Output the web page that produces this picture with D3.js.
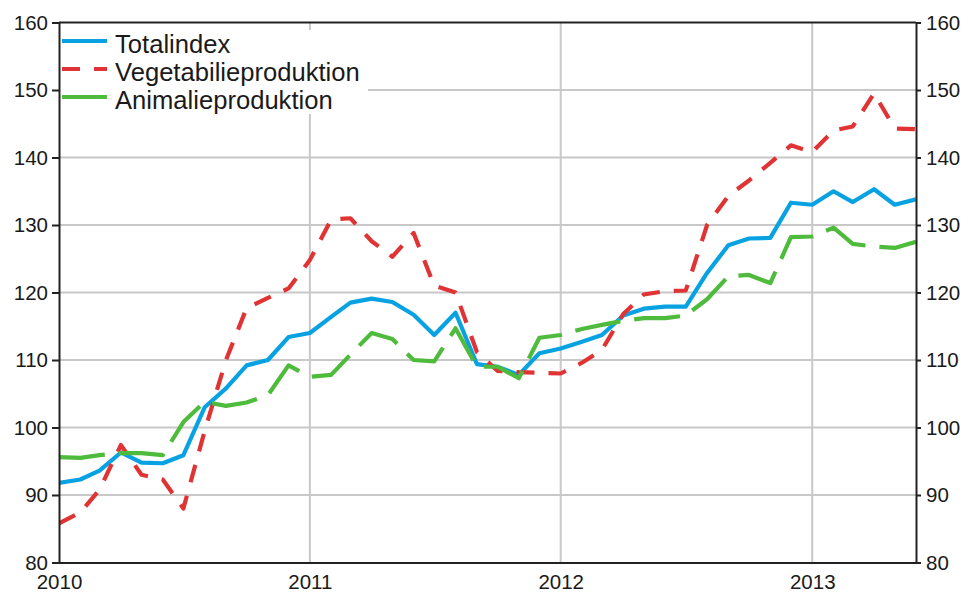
<!DOCTYPE html>
<html>
<head>
<meta charset="utf-8">
<script src="https://cdn.jsdelivr.net/npm/d3@7/dist/d3.min.js"></script>
<style>
  html, body { margin: 0; padding: 0; background: #ffffff; }
  svg { display: block; }
  text { font-family: "Liberation Sans", Arial, sans-serif; fill: #1a1a1a; }
</style>
</head>
<body>
<svg id="chart" width="969" height="592"></svg>
<script>
// ---- data (monthly, Jan 2010 – Jun 2013) ----
const startYear = 2010;
const startMonth = 0;
const totalindex = [
  91.8, 92.3, 93.6, 96.3, 94.8, 94.7, 95.9, 103.0, 105.8, 109.2, 110.0, 113.4,
  114.0, 116.4, 118.5, 119.1, 118.6, 116.7, 113.7, 117.0, 109.4, 109.0, 107.8, 111.0,
  111.7, 112.7, 113.7, 116.6, 117.6, 117.9, 117.9, 122.9, 127.0, 128.0, 128.1, 133.3,
  133.0, 135.0, 133.4, 135.3, 133.0, 133.8
];
const vegetabilie = [
  85.8, 87.4, 90.8, 97.4, 93.0, 92.3, 88.0, 99.5, 110.0, 117.7, 119.2, 120.6,
  124.8, 130.8, 131.0, 127.6, 125.3, 128.8, 121.0, 120.0, 111.2, 108.4, 108.2, 108.1,
  108.0, 109.6, 111.5, 116.8, 119.7, 120.2, 120.3, 130.0, 134.3, 136.6, 139.2, 141.8,
  140.8, 144.0, 144.6, 149.5, 144.3, 144.2
];
const animalie = [
  95.6, 95.5, 95.9, 96.2, 96.2, 95.9, 100.8, 103.8, 103.2, 103.7, 104.8, 109.2,
  107.5, 107.8, 110.8, 114.0, 113.1, 110.0, 109.8, 114.7, 109.0, 109.0, 107.3, 113.3,
  113.7, 114.6, 115.2, 115.8, 116.2, 116.2, 116.6, 119.0, 122.4, 122.6, 121.4, 128.2,
  128.3, 129.6, 127.2, 126.8, 126.6, 127.5
];
const seriesNames = ["Totalindex", "Vegetabilieproduktion", "Animalieproduktion"];
const seriesColors = ["#08a2e3", "#e03434", "#4fbb3c"];
const seriesDash = [null, "18,14", "46,14"];
const yTicks = [80, 90, 100, 110, 120, 130, 140, 150, 160];
const xTickYears = [2010, 2011, 2012, 2013];

// ---- layout ----
const W = 969, H = 592;
const pL = 59, pR = 916, pT = 22.5, pB = 562.5;

const svg = d3.select("#chart");

const dates = totalindex.map((_, i) => new Date(startYear, startMonth + i, 1));
const x = d3.scaleTime()
  .domain([dates[0], dates[dates.length - 1]])
  .range([pL, pR]);
const y = d3.scaleLinear().domain([80, 160]).range([pB, pT]);

svg.append("rect").attr("x", 0).attr("y", 0).attr("width", W).attr("height", H).attr("fill", "#fff");

// gridlines
const grid = svg.append("g").attr("stroke", "#c8c8c8").attr("stroke-width", 2);
grid.selectAll("line.h").data(yTicks.filter(v => v > 80 && v < 160)).enter().append("line")
  .attr("x1", pL).attr("x2", pR)
  .attr("y1", d => y(d)).attr("y2", d => y(d));
grid.selectAll("line.v").data(xTickYears.slice(1)).enter().append("line")
  .attr("x1", d => x(new Date(d, 0, 1))).attr("x2", d => x(new Date(d, 0, 1)))
  .attr("y1", pT).attr("y2", pB);

// legend background box (covers gridlines)
svg.append("rect").attr("x", pL + 1).attr("y", 30).attr("width", 308).attr("height", 84).attr("fill", "#fff");

// lines
const line = (vals) => d3.line()
  .x((d, i) => x(dates[i]))
  .y(d => y(d))(vals);
const allSeries = [totalindex, vegetabilie, animalie];
svg.append("clipPath").attr("id", "plotclip").append("rect")
  .attr("x", pL).attr("y", pT).attr("width", pR - pL).attr("height", pB - pT);
const linesG = svg.append("g").attr("clip-path", "url(#plotclip)");
allSeries.forEach((vals, k) => {
  linesG.append("path")
    .attr("d", line(vals))
    .attr("fill", "none")
    .attr("stroke", seriesColors[k])
    .attr("stroke-width", 4.2)
    .attr("stroke-linejoin", "round")
    .attr("stroke-dasharray", seriesDash[k]);
});

// frame / axes
const axisColor = "#222";
svg.append("line").attr("x1", pL).attr("x2", pR).attr("y1", pT).attr("y2", pT)
  .attr("stroke", axisColor).attr("stroke-width", 2);

const yAxisL = d3.axisLeft(y).tickValues(yTicks).tickSize(7).tickPadding(4).tickFormat(d3.format("d"));
const gL = svg.append("g").attr("transform", `translate(${pL},0)`).call(yAxisL);
const yAxisR = d3.axisRight(y).tickValues(yTicks).tickSize(5).tickPadding(5).tickFormat(d3.format("d"));
const gR = svg.append("g").attr("transform", `translate(${pR},0)`).call(yAxisR);
const xAxis = d3.axisBottom(x)
  .tickValues(xTickYears.map(yv => new Date(yv, 0, 1)))
  .tickSize(0).tickPadding(12)
  .tickFormat(d3.timeFormat("%Y"));
const gX = svg.append("g").attr("transform", `translate(0,${pB})`).call(xAxis);

[gL, gR, gX].forEach(g => {
  g.select(".domain").attr("stroke", axisColor).attr("stroke-width", 2);
  g.selectAll(".tick line").attr("stroke", axisColor).attr("stroke-width", 2);
  g.selectAll(".tick text")
    .attr("font-family", "'Liberation Sans', Arial, sans-serif")
    .attr("font-size", 20.5)
    .attr("fill", "#1a1a1a");
});
gX.selectAll(".tick text").attr("dy", "0.71em");

// legend
const leg = svg.append("g");
const legY = [41, 69, 97];
seriesNames.forEach((name, k) => {
  leg.append("line")
    .attr("x1", 62).attr("x2", 107)
    .attr("y1", legY[k]).attr("y2", legY[k])
    .attr("stroke", seriesColors[k]).attr("stroke-width", 4.2)
    .attr("stroke-dasharray", seriesDash[k]);
  leg.append("text")
    .attr("x", 115).attr("y", legY[k] + 12)
    .attr("font-size", 25.6)
    .text(name);
});
</script>
</body>
</html>
